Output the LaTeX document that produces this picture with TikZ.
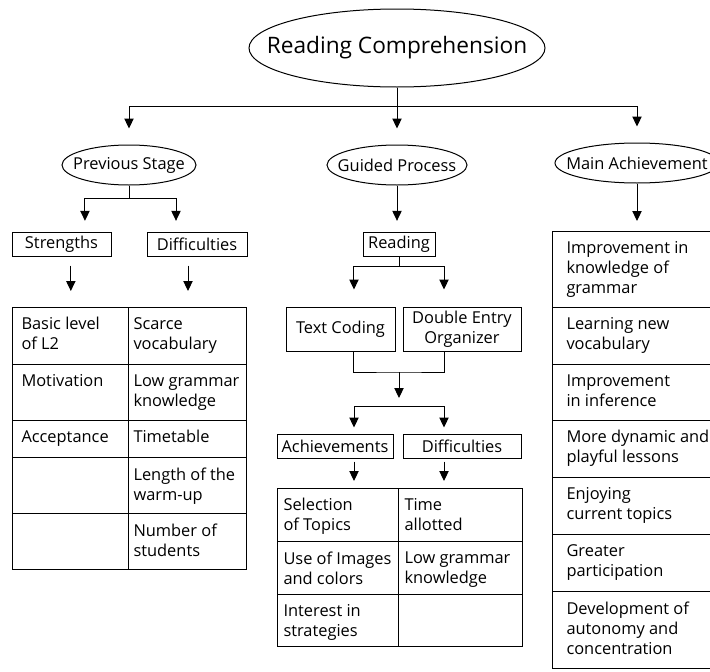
\documentclass[tikz,border=0pt]{standalone}
\usepackage{fontspec}
\setmainfont{Open Sans}
\usetikzlibrary{shapes.geometric,arrows.meta}

\tikzset{every picture/.style={line width=0.75pt}}

\begin{document}
\begin{tikzpicture}[x=0.75pt,y=0.75pt,yscale=-1,xscale=1,
  font=\fontsize{12.3}{15}\selectfont,
  oval/.style={draw, ellipse, inner sep=0pt},
  box/.style={draw, rectangle, inner sep=0pt, align=center},
  tab/.style={draw, rectangle, inner sep=0pt, anchor=north west},
  cell/.style={anchor=north west, inner sep=0pt, align=left},
  arr/.style={-{Triangle[length=7.5pt,width=7pt]}}]
\useasboundingbox (0,0) rectangle (710,671);

%Shape: Ellipse
\node[oval, minimum width=222pt, minimum height=58.5pt] (rc) at (397,48) {\makebox[0pt]{\fontsize{17}{20}\selectfont Reading Comprehension}};
%Shape: Ellipse
\node[oval, minimum width=100.5pt, minimum height=30pt] (ps) at (129,165) {\makebox[0pt]{Previous Stage}};
%Shape: Ellipse
\node[oval, minimum width=105pt, minimum height=30pt] (gp) at (397,165) {\makebox[0pt]{Guided Process}};
%Shape: Ellipse
\node[oval, minimum width=123pt, minimum height=30pt] (ma) at (637,163) {\makebox[0pt]{Main Achievement}};

%Shape: Rectangle
\node[box, minimum width=74.25pt, minimum height=18pt] (st) at (61.5,244) {Strengths};
\node[box, minimum width=75pt, minimum height=18pt] (df) at (197,244) {Difficulties};
\node[box, minimum width=54pt, minimum height=18pt] (rd) at (399,244) {Reading};
\node[box, minimum width=81.75pt, minimum height=33pt] (tc) at (340.5,329) {Text Coding};
\node[box, minimum width=88.5pt, minimum height=33pt] (de) at (462,329) {Double Entry\\Organizer};
\node[box, minimum width=87pt, minimum height=18pt] (ac) at (335,446) {Achievements};
\node[box, minimum width=88.5pt, minimum height=18pt] (dg) at (462,446) {Difficulties};

%Shape: Table
\node[tab, minimum width=175.5pt, minimum height=196.5pt] (lt) at (12,307) {};
\draw (128,307) -- (128,569) ;
\foreach \y in {364,420,457,513} \draw (12,\y) -- (246,\y) ;
%Shape: Table
\node[tab, minimum width=183.75pt, minimum height=118.5pt] (ct) at (277,488) {};
\draw (398,488) -- (398,646) ;
\foreach \y in {541,594} \draw (277,\y) -- (522,\y) ;
%Shape: Table
\node[tab, minimum width=156pt, minimum height=327.75pt] (rt) at (552,231) {};
\foreach \y in {307,364,420,477,534,591} \draw (552,\y) -- (760,\y) ;

%Straight Lines
\coordinate (hub) at (397,106);
\draw[arr, shorten >=12pt] (rc.south) -- (hub) -| (ps.north) ;
\draw[arr, shorten >=12pt] (rc.south) -- (gp.north) ;
\draw[arr, shorten >=12pt] (rc.south) -- (hub) -| (ma.north) ;
\draw[arr, shorten >=8pt] (ps.south) -- ++(0,13) -| ([xshift=17.6pt]st.north) ;
\draw[arr, shorten >=8pt] (ps.south) -- ++(0,13) -| ([xshift=-15.75pt]df.north) ;
\draw[arr, shorten <=6.75pt, shorten >=12pt] ([xshift=7pt]st.south) -- ([xshift=7pt]st.south |- lt.north) ;
\draw[arr, shorten <=6.75pt, shorten >=12pt] ([xshift=-6.75pt]df.south) -- ([xshift=-6.75pt]df.south |- lt.north) ;
\draw[arr, shorten >=8pt] (gp.south) -- (gp.south |- rd.north) ;
\draw[arr, shorten >=12.75pt] (rd.south) -- ++(0,10) -| ([xshift=10.1pt]tc.north) ;
\draw[arr, shorten >=12.75pt] (rd.south) -- ++(0,10) -| ([xshift=-13.5pt]de.north) ;
\coordinate (mg) at (399,372);
\coordinate (sp) at (399,406);
\draw ([xshift=10.1pt]tc.south) |- (mg) -| ([xshift=-13.5pt]de.south) ;
\draw[arr, shorten >=6pt] (mg) -- (sp) ;
\draw[arr, shorten >=4.5pt] (sp) -| ([xshift=14.25pt]ac.north) ;
\draw[arr, shorten >=4.5pt] (sp) -| ([xshift=-13.5pt]dg.north) ;
\draw[arr, shorten <=2.25pt, shorten >=5.25pt] ([xshift=14.25pt]ac.south) -- ([xshift=14.25pt]ac.south |- ct.north) ;
\draw[arr, shorten <=2.25pt, shorten >=5.25pt] ([xshift=-13.5pt]dg.south) -- ([xshift=-13.5pt]dg.south |- ct.north) ;
\draw[arr, shorten >=7.5pt] (ma.south) -- (ma.south |- rt.north) ;

% Text Node
\node[cell] (l1) at (21,317) {Basic level\\of L2};
\node[cell] (l2) at (21,374) {Motivation};
\node[cell] (l3) at (21,430) {Acceptance};
\node[cell] (r1) at (133,317) {Scarce\\vocabulary};
\node[cell] (r2) at (133,374) {Low grammar\\knowledge};
\node[cell] (r3) at (133,430) {Timetable};
\node[cell] (r4) at (133,467) {Length of the\\warm-up};
\node[cell] (r5) at (133,523) {Number of\\students};
% Text Node
\node[cell] (a1) at (283,498) {Selection\\of Topics};
\node[cell] (a2) at (283,551) {Use of Images\\and colors};
\node[cell] (a3) at (283,604) {Interest in\\strategies};
\node[cell] (d1) at (404,498) {Time\\allotted};
\node[cell] (d2) at (404,551) {Low grammar\\knowledge};
% Text Node
\node[cell] (m1) at (566,241) {Improvement in\\knowledge of\\grammar};
\node[cell] (m2) at (566,317) {Learning new\\vocabulary};
\node[cell] (m3) at (566,374) {Improvement\\in inference};
\node[cell] (m4) at (566,430) {More dynamic and\\playful lessons};
\node[cell] (m5) at (566,487) {Enjoying\\current topics};
\node[cell] (m6) at (566,544) {Greater\\participation};
\node[cell] (m7) at (566,601) {Development of\\autonomy and\\concentration};
\end{tikzpicture}
\end{document}
